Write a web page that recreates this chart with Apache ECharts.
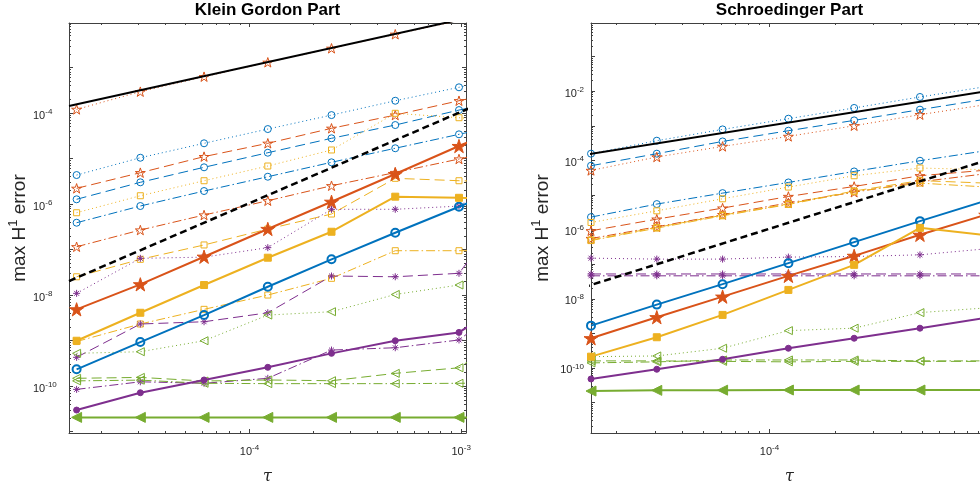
<!DOCTYPE html>
<html><head><meta charset="utf-8">
<script src="https://cdn.jsdelivr.net/npm/echarts@6/dist/echarts.min.js"></script>
<style>html,body{margin:0;padding:0;background:#fff}#c{width:980px;height:482px}</style>
</head><body><div id="c"></div>
<script>
// ---- data ----
const kgTau = [1.526e-5, 3.052e-5, 6.104e-5, 1.221e-4, 2.441e-4, 4.883e-4, 9.766e-4, 1.953e-3];
const sTau  = [1.526e-5, 3.052e-5, 6.104e-5, 1.221e-4, 2.441e-4, 4.883e-4, 9.766e-4];
const refTau = [1.405e-5, 1.1e-3];
const kgRef1 = [1.43e-4, 1.26e-2];   // black solid
const kgRef2 = [2.03e-8, 1.29e-4];   // black dashed
const sRef1  = [1.43e-4, 1.11e-2];
const sRef2  = [2.12e-8, 1.25e-4];

// Klein Gordon part
const kgBlueSolid   = [2.33e-10, 9.27e-10, 3.63e-9, 1.52e-8, 6.09e-8, 2.34e-7, 8.73e-7, 3.3e-6];
const kgBlueDash    = [1.27e-6, 3.0e-6, 6.41e-6, 1.34e-5, 2.78e-5, 5.44e-5, 1.16e-4, 2.3e-4];
const kgBlueDot     = [4.33e-6, 1.04e-5, 2.16e-5, 4.44e-5, 9.0e-5, 1.86e-4, 3.67e-4, 7.3e-4];
const kgBlueDashDot = [3.88e-7, 9.04e-7, 1.93e-6, 3.98e-6, 8.25e-6, 1.68e-5, 3.40e-5, 6.8e-5];
const kgOrangeSolid   = [4.85e-9, 1.72e-8, 6.95e-8, 2.83e-7, 1.12e-6, 4.56e-6, 1.88e-5, 7.5e-5];
const kgOrangeDash    = [2.21e-6, 4.88e-6, 1.10e-5, 2.16e-5, 4.61e-5, 9.0e-5, 1.86e-4, 3.7e-4];
const kgOrangeDot     = [1.2e-4, 2.94e-4, 6.28e-4, 1.30e-3, 2.64e-3, 5.37e-3, 1.07e-2, 2.1e-2];
const kgOrangeDashDot = [1.15e-7, 2.68e-7, 5.73e-7, 1.18e-6, 2.52e-6, 4.92e-6, 9.75e-6, 1.9e-5];
const kgYellowSolid   = [9.9e-10, 4.08e-9, 1.66e-8, 6.61e-8, 2.46e-7, 1.45e-6, 1.37e-6, 1.3e-6];
const kgYellowDash    = [2.52e-8, 6.09e-8, 1.26e-7, 2.82e-7, 6.03e-7, 3.67e-6, 3.25e-6, 3.0e-6];
const kgYellowDot     = [6.44e-7, 1.52e-6, 3.25e-6, 6.84e-6, 1.54e-5, 9.85e-5, 7.88e-5, 6.5e-5];
const kgYellowDashDot = [9.5e-10, 2.31e-9, 4.85e-9, 1.0e-8, 2.33e-8, 9.42e-8, 9.42e-8, 9.4e-8];
const kgPurpleSolid   = [2.97e-11, 7.13e-11, 1.36e-10, 2.58e-10, 5.23e-10, 9.9e-10, 1.51e-9, 1.2e-8];
const kgPurpleDash    = [4.28e-10, 2.31e-9, 2.59e-9, 4.08e-9, 2.62e-8, 2.52e-8, 3.0e-8, 2.2e-6];
const kgPurpleDot     = [1.09e-8, 6.41e-8, 6.8e-8, 1.10e-7, 7.66e-7, 7.66e-7, 9.0e-7, 7.0e-6];
const kgPurpleDashDot = [8.45e-11, 1.24e-10, 1.15e-10, 1.48e-10, 6.18e-10, 6.95e-10, 1.03e-9, 1.2e-8];
const kgGreenSolid   = [2.05e-11, 2.05e-11, 2.05e-11, 2.05e-11, 2.05e-11, 2.05e-11, 2.05e-11, 2.05e-11];
const kgGreenDash    = [1.48e-10, 1.55e-10, 1.29e-10, 1.36e-10, 1.31e-10, 1.90e-10, 2.52e-10, 2.3e-9];
const kgGreenDot     = [5.24e-10, 5.68e-10, 9.9e-10, 3.63e-9, 4.3e-9, 1.03e-8, 1.66e-8, 1.05e-7];
const kgGreenDashDot = [1.3e-10, 1.35e-10, 1.15e-10, 1.13e-10, 1.13e-10, 1.13e-10, 1.15e-10, 1.2e-10];

// Schroedinger part
const sBlueSolid   = [1.67e-9, 6.78e-9, 2.64e-8, 1.07e-7, 4.33e-7, 1.75e-6, 6.8e-6];
const sBlueDash    = [6.99e-5, 1.56e-4, 3.52e-4, 7.19e-4, 1.43e-3, 2.92e-3, 5.87e-3];
const sBlueDot     = [1.56e-4, 3.70e-4, 7.85e-4, 1.60e-3, 3.27e-3, 6.79e-3, 1.35e-2];
const sBlueDashDot = [2.29e-6, 5.45e-6, 1.13e-5, 2.30e-5, 4.78e-5, 9.75e-5, 1.9e-4];
const sOrangeSolid   = [7.23e-10, 2.93e-9, 1.15e-8, 4.58e-8, 1.74e-7, 7.04e-7, 2.67e-6];
const sOrangeDash    = [9.2e-7, 2.0e-6, 4.17e-6, 9.03e-6, 1.76e-5, 3.59e-5, 5.2e-5];
const sOrangeDot     = [5.11e-5, 1.25e-4, 2.53e-4, 4.92e-4, 1.0e-3, 2.09e-3, 4.07e-3];
const sOrangeDashDot = [5.5e-7, 1.2e-6, 2.7e-6, 5.9e-6, 1.2e-5, 2.4e-5, 4.1e-5];
const sYellowSolid   = [2.12e-10, 7.72e-10, 3.41e-9, 1.80e-8, 9.55e-8, 1.12e-6, 6.9e-7];
const sYellowDash    = [5.0e-7, 1.15e-6, 2.6e-6, 5.5e-6, 1.3e-5, 2.6e-5, 2.2e-5];
const sYellowDot     = [1.60e-6, 3.48e-6, 7.75e-6, 1.69e-5, 3.59e-5, 6.0e-5, 5.37e-5];
const sYellowDashDot = [4.8e-7, 1.1e-6, 2.5e-6, 5.3e-6, 1.25e-5, 2.2e-5, 1.7e-5];
const sPurpleSolid   = [4.80e-11, 9.16e-11, 1.78e-10, 3.71e-10, 7.22e-10, 1.41e-9, 2.79e-9];
const sPurpleDash    = [5.2e-8, 5.2e-8, 5.2e-8, 5.2e-8, 5.2e-8, 5.2e-8, 5.2e-8];
const sPurpleDot     = [1.49e-7, 1.40e-7, 1.40e-7, 1.60e-7, 1.66e-7, 1.86e-7, 2.77e-7];
const sPurpleDashDot = [4.6e-8, 4.6e-8, 4.6e-8, 4.6e-8, 4.6e-8, 4.6e-8, 4.6e-8];
const sGreenSolid   = [2.15e-11, 2.25e-11, 2.28e-11, 2.3e-11, 2.3e-11, 2.3e-11, 2.3e-11];
const sGreenDash    = [1.6e-10, 1.6e-10, 1.55e-10, 1.5e-10, 1.55e-10, 1.55e-10, 1.55e-10];
const sGreenDot     = [2.12e-10, 2.22e-10, 3.71e-10, 1.20e-9, 1.41e-9, 3.98e-9, 5.43e-9];
const sGreenDashDot = [1.4e-10, 1.5e-10, 1.7e-10, 1.7e-10, 1.7e-10, 1.6e-10, 1.6e-10];

// tick labels
const sYMajor = [1e-12, 1e-11, 1e-10, 1e-9, 1e-8, 1e-7, 1e-6, 1e-5, 1e-4, 1e-3, 1e-2, 1e-1];
const sYLabels = [1e-10, 1e-8, 1e-6, 1e-4, 1e-2];
const sXLabels = [1e-4];

const titles = ['Klein Gordon Part', 'Schroedinger Part'];

// ---- styling ----
const C = {blue:'#0072BD', orange:'#D95319', yellow:'#EDB120', purple:'#7E2F8E', green:'#77AC30', black:'#000000'};
const STAR = 'path://M50 0L61.23 34.55L97.55 34.55L68.16 55.9L79.39 90.45L50 69.1L20.61 90.45L31.84 55.9L2.45 34.55L38.77 34.55Z';
const AST = 'path://M50 0L50 100M0 50L100 50M15 15L85 85M85 15L15 85';
const DASH = {solid:'solid', dash:[10,5], dot:[1,3], dashdot:[9,3,1.5,3]};
const MARK = {
  blue:   {symbol:'circle', size:7, sSize:8, sFill:false},
  orange: {symbol:STAR, size:10, sSize:14, sFill:true},
  yellow: {symbol:'rect', size:6, sSize:7, sFill:true},
  purple: {symbol:AST, size:7, sSymbol:'circle', sSize:6, sFill:true},
  green:  {symbol:'triangle', size:8, sSize:10, sFill:true, rotate:90}
};
function mk(gi, ys, color, style) {
  const m = MARK[color], solid = style === 'solid', fill = solid && m.sFill;
  const xs = gi === 0 ? kgTau : sTau;
  return {
    type:'line', xAxisIndex: gi*2, yAxisIndex: gi*2,
    data: xs.map((t,i) => [t, ys[i]]),
    symbol: (solid && m.sSymbol) ? m.sSymbol : m.symbol,
    symbolSize: solid ? m.sSize : m.size,
    symbolRotate: m.rotate || 0, symbolKeepAspect: true, showAllSymbol: true,
    lineStyle: {color: C[color], width: solid ? 2 : 1, type: DASH[style]},
    itemStyle: {color: fill ? C[color] : 'rgba(255,255,255,0)', borderColor: C[color], borderWidth: (solid && !fill) ? 2 : 1},
    clip: true, silent: true, z: solid ? 3 : 2
  };
}
function ref(gi, ys, style) {
  return {type:'line', xAxisIndex: gi*2, yAxisIndex: gi*2, data: refTau.map((t,i)=>[t, ys[i]]),
    symbol:'none', clip:true, silent:true, z:4,
    lineStyle:{color:'#000', width: style==='solid'?2:2.5, type: style==='solid'?'solid':[7,4]}};
}
const series = [
  mk(0,kgBlueDash,'blue','dash'), mk(0,kgBlueDot,'blue','dot'), mk(0,kgBlueDashDot,'blue','dashdot'),
  mk(0,kgOrangeDash,'orange','dash'), mk(0,kgOrangeDot,'orange','dot'), mk(0,kgOrangeDashDot,'orange','dashdot'),
  mk(0,kgYellowDash,'yellow','dash'), mk(0,kgYellowDot,'yellow','dot'), mk(0,kgYellowDashDot,'yellow','dashdot'),
  mk(0,kgPurpleDash,'purple','dash'), mk(0,kgPurpleDot,'purple','dot'), mk(0,kgPurpleDashDot,'purple','dashdot'),
  mk(0,kgGreenDash,'green','dash'), mk(0,kgGreenDot,'green','dot'), mk(0,kgGreenDashDot,'green','dashdot'),
  mk(0,kgBlueSolid,'blue','solid'), mk(0,kgOrangeSolid,'orange','solid'), mk(0,kgYellowSolid,'yellow','solid'),
  mk(0,kgPurpleSolid,'purple','solid'), mk(0,kgGreenSolid,'green','solid'),
  ref(0,kgRef1,'solid'), ref(0,kgRef2,'dash'),
  mk(1,sBlueDash,'blue','dash'), mk(1,sBlueDot,'blue','dot'), mk(1,sBlueDashDot,'blue','dashdot'),
  mk(1,sOrangeDash,'orange','dash'), mk(1,sOrangeDot,'orange','dot'), mk(1,sOrangeDashDot,'orange','dashdot'),
  mk(1,sYellowDash,'yellow','dash'), mk(1,sYellowDot,'yellow','dot'), mk(1,sYellowDashDot,'yellow','dashdot'),
  mk(1,sPurpleDash,'purple','dash'), mk(1,sPurpleDot,'purple','dot'), mk(1,sPurpleDashDot,'purple','dashdot'),
  mk(1,sGreenDash,'green','dash'), mk(1,sGreenDot,'green','dot'), mk(1,sGreenDashDot,'green','dashdot'),
  mk(1,sBlueSolid,'blue','solid'), mk(1,sOrangeSolid,'orange','solid'), mk(1,sYellowSolid,'yellow','solid'),
  mk(1,sPurpleSolid,'purple','solid'), mk(1,sGreenSolid,'green','solid'),
  ref(1,sRef1,'solid'), ref(1,sRef2,'dash')
];

const AX = '#404040', TXT = '#262626', FONT = 'Liberation Sans, Arial, sans-serif';
const RICH = {b:{fontSize:11, color:TXT, fontFamily:FONT}, s:{fontSize:8, color:TXT, fontFamily:FONT, padding:[0,0,8,0]}};
function fmt(v, step) {
  const l = Math.log10(v), e = Math.round(l);
  if (Math.abs(l - e) > 1e-6 || e % step !== 0) return '';
  return '{b|10}{s|' + e + '}';
}
function axis(dim, gi, pos, min, max, show, extra) {
  return Object.assign({
    type:'log', logBase:10, gridIndex:gi, position:pos, min:min, max:max,
    axisLine:{show:true, onZero:false, lineStyle:{color:AX, width:1}},
    axisTick:{show:true, inside:true, length:4, lineStyle:{color:AX, width:1}},
    minorTick:{show:true, splitNumber:9, length:2, lineStyle:{color:AX, width:1}},
    splitLine:{show:false}, minorSplitLine:{show:false},
    axisLabel:{show:show, formatter: v => fmt(v, dim==='x'?1:2), rich:RICH}
  }, extra || {});
}
const kgX = [1.405e-5, 1.054e-3], sX = [1.526e-5, 1.0e-3];
const kgY = [9.3e-12, 9.5e-3], sY = [1.318e-12, 0.933];
// minor tick positions (2..9 x 10^k) for the Schroedinger y axis
const sYMinor = [];
sYMajor.forEach(d => { for (let k = 2; k <= 9; k++) sYMinor.push(d * k); });

const xName = {name:'τ', nameLocation:'middle', nameGap:36, nameTextStyle:{fontFamily:'DejaVu Serif, serif', fontStyle:'italic', fontSize:16, color:TXT}};
const yNameStyle = {fontFamily:FONT, fontSize:19, color:TXT, rich:{n:{fontSize:19, color:TXT, fontFamily:FONT}, p:{fontSize:13, color:TXT, fontFamily:FONT, padding:[0,0,12,0]}}};
const xLab = {show:true, margin:11, formatter:v=>fmt(v,1), rich:RICH};
const xAxis = [
  axis('x',0,'bottom',kgX[0],kgX[1],true, Object.assign({}, xName, {axisLabel:xLab})),
  axis('x',0,'top',kgX[0],kgX[1],false),
  axis('x',1,'bottom',sX[0],sX[1],true, Object.assign({}, xName, {axisLabel:Object.assign({}, xLab, {customValues:sXLabels})})),
  axis('x',1,'top',sX[0],sX[1],false)
];
const sYCommon = {minorTick:{show:false}};
const yName = {name:'{n|max H}{p|1}{n| error}', nameLocation:'middle', nameGap:36, nameTextStyle:yNameStyle};
const yAxis = [
  axis('y',0,'left',kgY[0],kgY[1],true,Object.assign({}, yName,
     {axisLabel:{show:true, align:'left', margin:36, padding:[5,0,0,0], formatter:v=>fmt(v,2), rich:RICH}})),
  axis('y',0,'right',kgY[0],kgY[1],false),
  axis('y',1,'left',sY[0],sY[1],true,Object.assign({}, yName, {
     axisLabel:{show:true, margin:7, padding:[5,0,0,0], customValues:sYLabels, formatter:v=>fmt(v,2), rich:RICH},
     axisTick:{show:true, inside:true, length:4, customValues:sYMajor, lineStyle:{color:AX, width:1}}}, sYCommon)),
  axis('y',1,'right',sY[0],sY[1],false,Object.assign({
     axisTick:{show:true, inside:true, length:4, customValues:sYMajor, lineStyle:{color:AX, width:1}}}, sYCommon)),
  axis('y',1,'left',sY[0],sY[1],false,Object.assign({axisLine:{show:false},
     axisTick:{show:true, inside:true, length:2, customValues:sYMinor, lineStyle:{color:AX, width:1}}}, sYCommon)),
  axis('y',1,'right',sY[0],sY[1],false,Object.assign({axisLine:{show:false},
     axisTick:{show:true, inside:true, length:2, customValues:sYMinor, lineStyle:{color:AX, width:1}}}, sYCommon))
];

const chart = echarts.init(document.getElementById('c'), null, {renderer:'canvas'});
const titleStyle = {fontFamily:FONT, fontWeight:'bold', fontSize:17, color:'#000'};
chart.setOption({
  animation:false, backgroundColor:'#fff',
  title: [
    {text:titles[0], left:267.5, top:2, padding:0, textAlign:'center', textStyle:titleStyle},
    {text:titles[1], left:789.5, top:2, padding:0, textAlign:'center', textStyle:titleStyle}
  ],
  grid: [
    {left:69, top:23, width:397, height:410, containLabel:false, outerBoundsMode:'none'},
    {left:591, top:23, width:397, height:410, containLabel:false, outerBoundsMode:'none'}
  ],
  xAxis: xAxis, yAxis: yAxis, series: series
});
</script></body></html>
